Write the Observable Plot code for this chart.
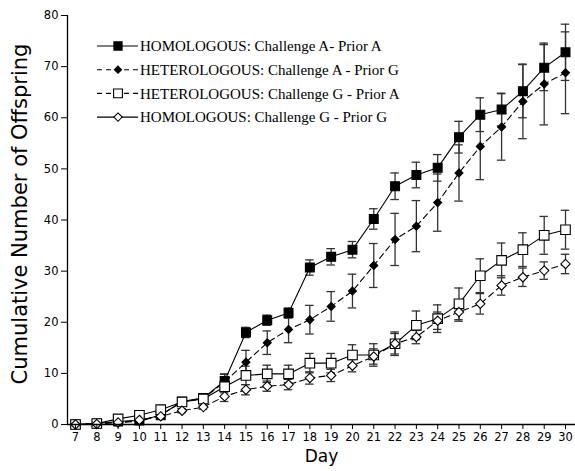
<!DOCTYPE html>
<html>
<head>
<meta charset="utf-8">
<script src="https://cdn.jsdelivr.net/npm/d3@7"></script>
<script src="https://cdn.jsdelivr.net/npm/@observablehq/plot@0.6"></script>
<style>
  html, body { margin: 0; padding: 0; background: #fff; }
</style>
</head>
<body>
<div id="chart"></div>
<script>
const days = [7,8,9,10,11,12,13,14,15,16,17,18,19,20,21,22,23,24,25,26,27,28,29,30];

const labels = [
  "HOMOLOGOUS: Challenge A- Prior A",
  "HETEROLOGOUS: Challenge A - Prior G",
  "HETEROLOGOUS: Challenge G - Prior A",
  "HOMOLOGOUS: Challenge G - Prior G"
];

const aaMean = [0,0.2,0.6,0.8,1.8,4.5,5.2,8.5,18.0,20.4,21.8,30.7,32.8,34.2,40.2,46.6,48.8,50.2,56.2,60.6,61.6,65.2,69.8,72.8];
const aaErr  = [0,0.1,0.2,0.3,0.4,0.5,0.8,1.4,1.0,1.0,1.0,1.5,1.6,1.6,2.0,2.6,2.5,2.6,3.1,3.3,3.2,5.2,4.5,5.5];

const agMean = [0,0.2,0.4,0.6,1.9,4.4,5.1,8.3,12.2,16.0,18.6,20.5,23.1,26.1,31.1,36.2,38.8,43.4,49.2,54.4,58.2,63.2,66.6,68.8];
const agErr  = [0,0.1,0.2,0.3,0.4,0.5,0.7,1.5,2.3,2.3,2.6,2.8,2.9,3.3,4.3,5.1,5.0,5.6,5.5,6.5,6.5,7.3,8.0,8.0];

const gaMean = [0,0.2,1.1,1.8,2.9,4.4,5.0,7.4,9.6,9.9,9.9,12.0,12.0,13.6,13.6,15.8,19.4,20.7,23.6,29.1,32.1,34.2,37.0,38.1];
const gaErr  = [0,0.1,0.3,0.3,0.4,0.5,0.6,1.2,1.8,1.7,1.7,1.9,1.9,2.0,2.2,2.3,2.8,2.7,3.1,3.3,3.4,3.3,3.7,3.8];

const ggMean = [0,0.1,0.4,0.9,1.6,2.7,3.4,5.5,6.8,7.5,7.8,9.1,9.6,11.5,13.3,15.8,17.1,20.3,22.0,23.6,27.2,28.8,30.1,31.4];
const ggErr  = [0,0.1,0.2,0.2,0.3,0.4,0.4,1.0,1.0,1.0,1.0,1.2,1.2,1.2,1.5,2.0,1.3,1.7,1.8,2.0,1.9,1.8,1.7,1.9];

const yTicks = [0,10,20,30,40,50,60,70,80];

// series styling (as drawn in the plot)
const series = [
  {key: "aa", mean: aaMean, err: aaErr, symbol: "square",  fill: "black", r: 5.0, dash: null},
  {key: "ag", mean: agMean, err: agErr, symbol: "diamond2", fill: "black", r: 3.6, dash: "6,4"},
  {key: "ga", mean: gaMean, err: gaErr, symbol: "square",  fill: "white", r: 5.4, dash: null},
  {key: "gg", mean: ggMean, err: ggErr, symbol: "diamond2", fill: "white", r: 4.2, dash: "6,4"}
];
// legend styling (as drawn in the legend)
const legendDash = [null, "5,4", "5,4", null];

const rows = series.map(s => days.map((d, i) => ({
  key: s.key, day: d, v: s.mean[i], lo: s.mean[i] - s.err[i], hi: s.mean[i] + s.err[i], e: s.err[i]
})));
const errRows = rows.flat().filter(d => d.e > 0);

const xDomain = [6.624, 30.469];
const cap = 0.2;

const marks = [];
marks.push(Plot.ruleX(errRows, {x: "day", y1: "lo", y2: "hi", stroke: "#333", strokeWidth: 1.3}));
marks.push(Plot.ruleY(errRows, {y: "hi", x1: d => d.day - cap, x2: d => d.day + cap, stroke: "#333", strokeWidth: 1.3}));
marks.push(Plot.ruleY(errRows, {y: "lo", x1: d => d.day - cap, x2: d => d.day + cap, stroke: "#333", strokeWidth: 1.3}));
series.forEach((s, k) => {
  marks.push(Plot.line(rows[k], {x: "day", y: "v", stroke: "black", strokeWidth: 1.1, strokeDasharray: s.dash || undefined}));
});
series.forEach((s, k) => {
  marks.push(Plot.dot(rows[k], {x: "day", y: "v", symbol: () => s.symbol, r: s.r, fill: s.fill, stroke: "black", strokeWidth: 1.1}));
});
marks.push(Plot.ruleY([0], {stroke: "black", strokeWidth: 1.3}));
marks.push(Plot.ruleX([xDomain[0]], {y1: 0, y2: 80, stroke: "black", strokeWidth: 1.3}));
marks.push(Plot.axisX({ticks: days, tickFormat: d => String(d), tickSize: 5, tickPadding: 3, label: null, fontSize: 11.5}));
marks.push(Plot.axisY({ticks: yTicks, tickSize: 6, tickPadding: 3, label: null, fontSize: 11.5}));
marks.push(Plot.text(["Day"], {frameAnchor: "bottom", dy: 37, fontSize: 17, fill: "black"}));
marks.push(Plot.text(["Cumulative Number of Offspring"], {frameAnchor: "left", textAnchor: "middle", dx: -47, dy: -6, rotate: -90, fontSize: 21, fill: "black"}));

const chart = Plot.plot({
  width: 575,
  height: 471,
  marginLeft: 67,
  marginRight: 0,
  marginTop: 15,
  marginBottom: 47,
  x: {domain: xDomain},
  y: {domain: [0, 80]},
  style: {fontFamily: "DejaVu Sans, sans-serif", background: "white", color: "black"},
  marks
});

// legend inside the plot area
const svg = d3.select(chart);
const lg = svg.append("g").attr("transform", "translate(97,46)");
const symFor = (s) => s.symbol === "square" ? d3.symbolSquare : d3.symbolDiamond2;
labels.forEach((lab, i) => {
  const s = series[i];
  const g = lg.append("g").attr("transform", `translate(0,${i * 23.7})`);
  g.append("line").attr("x1", 0).attr("x2", 41).attr("y1", 0).attr("y2", 0)
    .attr("stroke", "black").attr("stroke-width", 1.1)
    .attr("stroke-dasharray", legendDash[i]);
  g.append("path").attr("transform", "translate(21,0)")
    .attr("d", d3.symbol(symFor(s), Math.PI * s.r * s.r * (s.symbol === "square" ? 0.85 : 0.8))())
    .attr("fill", s.fill).attr("stroke", "black").attr("stroke-width", 1.1);
  g.append("text").attr("x", 43).attr("y", 0).attr("dy", "0.35em")
    .attr("text-anchor", "start")
    .attr("font-family", "Liberation Serif, Times New Roman, serif")
    .attr("font-size", 15).attr("fill", "black").text(lab);
});

document.getElementById("chart").appendChild(chart);
</script>
</body>
</html>
